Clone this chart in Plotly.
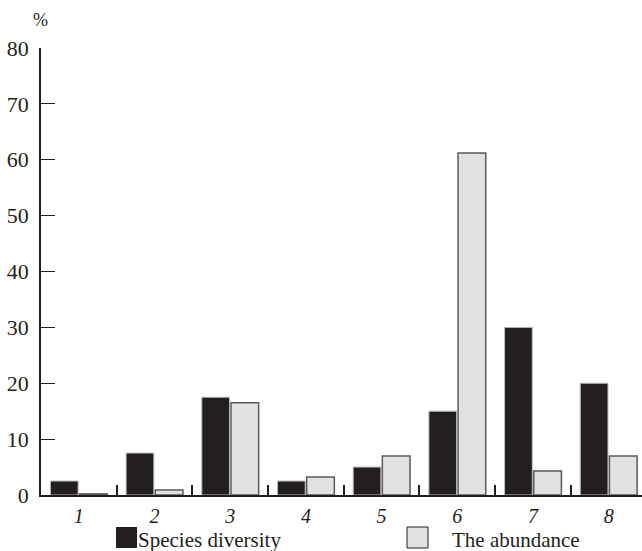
import plotly.graph_objects as go

categories = [1, 2, 3, 4, 5, 6, 7, 8]
cat_labels = ["1", "2", "3", "4", "5", "6", "7", "8"]
species_diversity = [2.5, 7.5, 17.5, 2.5, 5.0, 15.0, 30.0, 20.0]
abundance = [0.2, 0.9, 16.5, 3.2, 7.0, 61.2, 4.3, 7.0]
y_ticks = [0, 10, 20, 30, 40, 50, 60, 70, 80]
separators = [1.5, 2.5, 3.5, 4.5, 5.5, 6.5, 7.5]

FONT = "Liberation Serif"

fig = go.Figure()
fig.add_trace(go.Bar(
    x=categories, y=species_diversity, name="Species diversity",
    marker=dict(color="#231f20", line=dict(color="#b8b8b8", width=1)),
))
fig.add_trace(go.Bar(
    x=categories, y=abundance, name="The abundance",
    marker=dict(color="#e0e1e3", line=dict(color="#5a5a5a", width=1.5)),
))
# invisible trace to activate separator-tick axis
fig.add_trace(go.Scatter(x=[1], y=[0], xaxis="x2", mode="markers",
                         marker=dict(opacity=0), showlegend=False, hoverinfo="skip"))

xr = [0.5, 8.44]
fig.update_layout(
    width=642, height=551,
    margin=dict(l=41, r=0, t=48, b=56),
    paper_bgcolor="white", plot_bgcolor="white",
    barmode="group", bargap=0.23, bargroupgap=0.05,
    showlegend=False,
    font=dict(family=FONT, color="#231f20"),
    xaxis=dict(
        range=xr, tickvals=categories, ticktext=cat_labels,
        ticks="", showgrid=False, zeroline=False,
        showline=True, linecolor="#231f20", linewidth=1.5,
        tickfont=dict(family=FONT, size=20, style="italic"),
        ticklabelstandoff=2,
    ),
    xaxis2=dict(
        range=xr, overlaying="x", tickvals=separators, showticklabels=False,
        ticks="inside", ticklen=10, tickwidth=1.5, tickcolor="#231f20",
        showgrid=False, zeroline=False, showline=False, side="bottom",
    ),
    yaxis=dict(
        range=[0, 80], tickvals=y_ticks, ticks="inside", ticklen=14,
        tickwidth=1, tickcolor="#231f20",
        showgrid=False, zeroline=False, showline=True,
        linecolor="#231f20", linewidth=1.5,
        tickfont=dict(family=FONT, size=22),
        ticklabelstandoff=6,
    ),
    annotations=[
        dict(text="%", xref="paper", yref="paper", x=0, y=1, xshift=-1,
             xanchor="center", yanchor="middle", yshift=28,
             showarrow=False, font=dict(family=FONT, size=18)),
        dict(text="Species diversity", xref="paper", yref="paper",
             x=(136 - 41) / 601, y=-(540 - 495) / 447, xanchor="left", yanchor="middle",
             showarrow=False, font=dict(family=FONT, size=21)),
        dict(text="The abundance", xref="paper", yref="paper",
             x=(450 - 41) / 601, y=-(540 - 495) / 447, xanchor="left", yanchor="middle",
             showarrow=False, font=dict(family=FONT, size=21)),
    ],
    shapes=[
        dict(type="rect", xref="paper", yref="paper",
             x0=(116 - 41) / 601, x1=(137 - 41) / 601,
             y0=-(548 - 495) / 447, y1=-(527 - 495) / 447,
             fillcolor="#231f20", line=dict(width=0)),
        dict(type="rect", xref="paper", yref="paper",
             x0=(407 - 41) / 601, x1=(428 - 41) / 601,
             y0=-(548 - 495) / 447, y1=-(527 - 495) / 447,
             fillcolor="#e0e1e3", line=dict(color="#231f20", width=1)),
    ],
)

fig.write_html("out.html", config={"displayModeBar": False},
               post_script="document.body.style.margin='0';document.body.style.overflow='hidden';")
